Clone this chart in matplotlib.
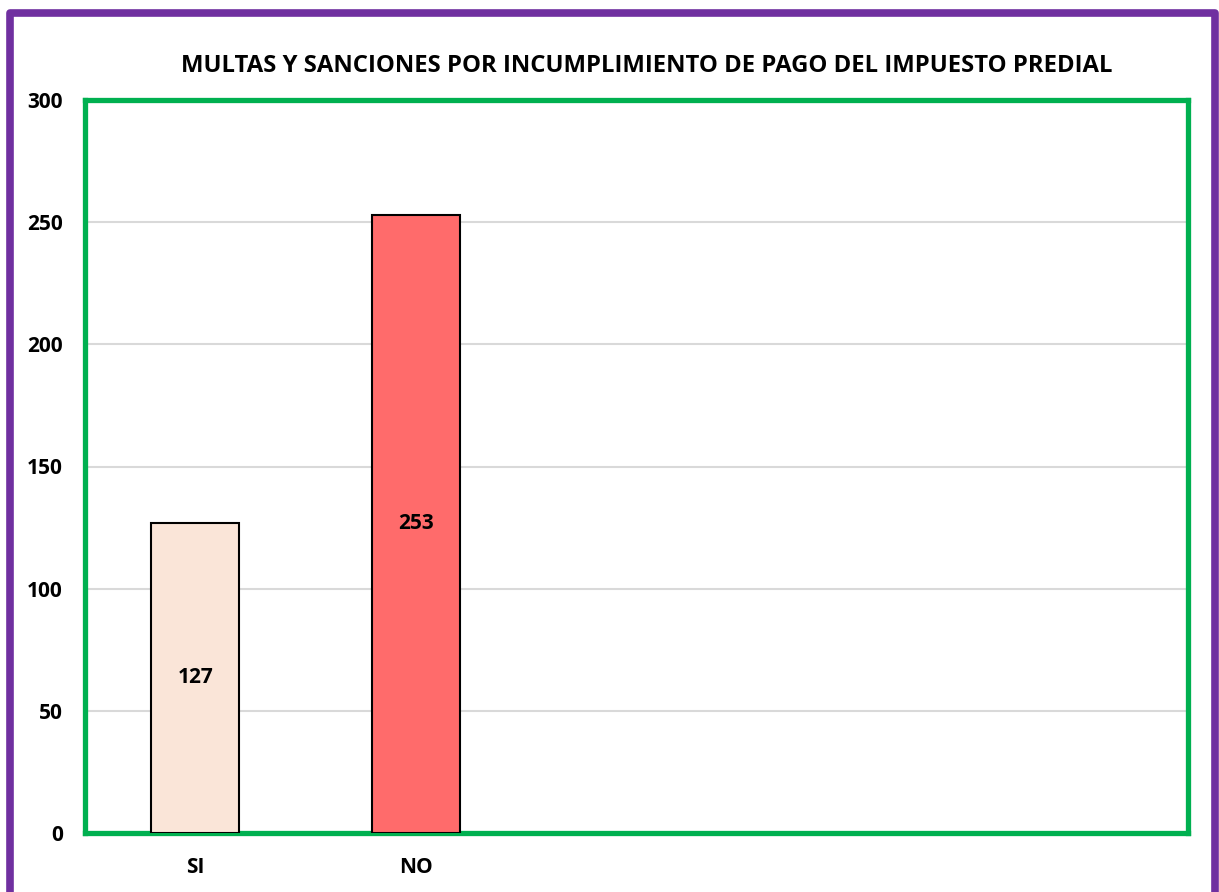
import matplotlib.pyplot as plt
from matplotlib.patches import Rectangle

# datos del grafico
categorias = ["SI", "NO", "", "", ""]
valores = [127, 253, 0, 0, 0]
colores = ["#FAE5D8", "#FF6B6B", "none", "none", "none"]
titulo = "MULTAS Y SANCIONES POR INCUMPLIMIENTO DE PAGO DEL IMPUESTO PREDIAL"
yticks = [0, 50, 100, 150, 200, 250, 300]

plt.rcParams['font.family'] = ['Open Sans', 'DejaVu Sans']

fig = plt.figure(figsize=(12.19, 8.92), dpi=100)
ax = fig.add_axes([85/1219, 1 - 833/892, (1188 - 85)/1219, (833 - 100)/892])

x = list(range(len(categorias)))
for i in range(2):
    ax.bar(x[i], valores[i], width=0.4, color=colores[i], edgecolor='black', linewidth=1.5, zorder=3)
    ax.text(x[i], valores[i] / 2, str(valores[i]), ha='center', va='center',
            fontsize=15, fontweight='bold', zorder=4)

ax.set_xlim(-0.5, len(categorias) - 0.5)
ax.set_ylim(0, 300)
ax.set_yticks(yticks)
ax.set_yticklabels([str(t) for t in yticks], fontsize=15, fontweight='bold')
ax.set_xticks(x[:2])
ax.set_xticklabels(categorias[:2], fontsize=15, fontweight='bold')
ax.tick_params(axis='y', length=0, pad=16)
ax.tick_params(axis='x', length=0, pad=17)
ax.grid(axis='y', color='#D9D9D9', linewidth=1.5, zorder=0)

for s in ax.spines.values():
    s.set_color('#00B050')
    s.set_linewidth(3.8)

fig.text(647/1219, 1 - 66/892, titulo, ha='center', va='center', fontsize=17.2, fontweight='bold')

# marco exterior morado
fig.patches.append(Rectangle((10/1219, -0.05), (1215 - 10)/1219, 1.05 - 13/892,
                             transform=fig.transFigure, fill=False,
                             edgecolor='#7030A0', linewidth=5.5, joinstyle='round'))

fig.savefig("out.png", dpi=100)
